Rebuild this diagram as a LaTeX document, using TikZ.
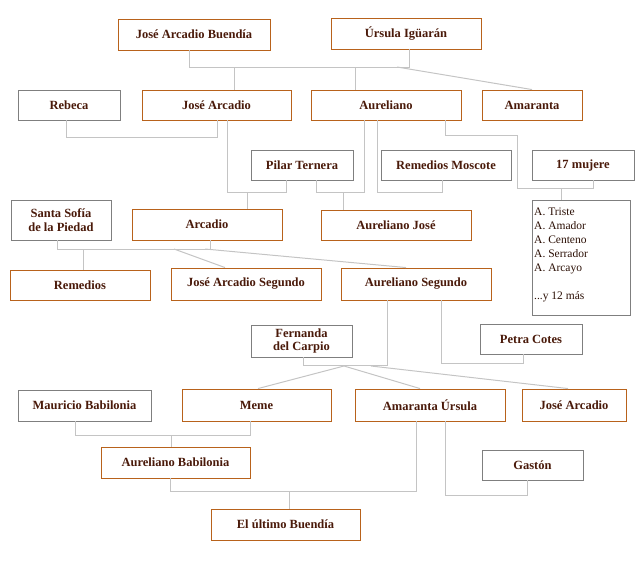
\documentclass[tikz,border=0pt]{standalone}
\usepackage{fontspec}
\setmainfont{Liberation Serif}
\definecolor{ob}{HTML}{B8621B}
\definecolor{gb}{HTML}{7F7F7F}
\definecolor{tx}{HTML}{4A1A0A}
\definecolor{ln}{HTML}{C4C4C4}
\begin{document}
\begin{tikzpicture}[x=1pt,y=-1pt,
  bx/.style={draw=ob,line width=0.9pt,fill=white,inner sep=0pt,font=\fontsize{12.5}{14}\selectfont\bfseries,text=tx,align=center,minimum height=31pt},
  gx/.style={bx,draw=gb},
  cn/.style={draw=ln,line width=1pt}]
\useasboundingbox (0,0) rectangle (640,560);
\node[bx,minimum width=152pt] (jab) at (194,34.5) {José Arcadio Buendía};
\node[bx,minimum width=150pt] (urs) at (406,33.5) {Úrsula Igüarán};
\node[gx,minimum width=102pt,minimum height=30pt] (reb) at (69,105) {Rebeca};
\node[bx,minimum width=149pt,minimum height=30pt] (ja) at (216.5,105) {José Arcadio};
\node[bx,minimum width=150pt,minimum height=30pt] (aur) at (386,105) {Aureliano};
\node[bx,minimum width=100pt,minimum height=30pt] (ama) at (532,105) {Amaranta};
\node[gx,minimum width=102pt,minimum height=30pt] (pil) at (302,165) {Pilar Ternera};
\node[gx,minimum width=130pt,minimum height=30pt] (rem) at (446,165) {Remedios Moscote};
\node[gx,minimum width=102pt,minimum height=30pt] (muj) at (583,165) {17 mujere};
\node[gx,minimum width=100pt,minimum height=40pt,font=\fontsize{12.5}{13.5}\selectfont\bfseries] (ssp) at (61,220) {Santa Sofía\\de la Piedad};
\node[bx,minimum width=150pt] (arc) at (207,224.5) {Arcadio};
\node[bx,minimum width=150pt,minimum height=30pt] (aj) at (396,225) {Aureliano José};
\node[draw=gb,line width=0.9pt,fill=white,minimum width=98pt,minimum height=115pt] (lst) at (581,257.5) {};
\node[anchor=north west,inner sep=0pt,align=left,font=\fontsize{11.5}{14}\selectfont,text=tx!60!black] (lsttxt) at (534,208) {A. Triste\\A. Amador\\A. Centeno\\A. Serrador\\A. Arcayo\\[14pt]...y 12 más};
\node[bx,minimum width=140pt,minimum height=30pt] (remd) at (80,285) {Remedios};
\node[bx,minimum width=150pt,minimum height=32pt] (jas) at (246,284) {José Arcadio Segundo};
\node[bx,minimum width=150pt,minimum height=32pt] (as) at (416,284) {Aureliano Segundo};
\node[gx,minimum width=101pt,minimum height=32pt,font=\fontsize{12.5}{13.5}\selectfont\bfseries] (fer) at (301.5,341) {Fernanda\\del Carpio};
\node[gx,minimum width=102pt,minimum height=30pt] (pet) at (531,339) {Petra Cotes};
\node[gx,minimum width=133pt] (mau) at (84.5,405.5) {Mauricio Babilonia};
\node[bx,minimum width=149pt,minimum height=32pt] (meme) at (256.5,405) {Meme};
\node[bx,minimum width=150pt,minimum height=32pt] (au) at (430,405) {Amaranta Úrsula};
\node[bx,minimum width=104pt,minimum height=32pt] (ja2) at (574,405) {José Arcadio};
\node[bx,minimum width=149pt] (ab) at (175.5,462.5) {Aureliano Babilonia};
\node[gx,minimum width=101pt,minimum height=30pt] (gas) at (532.5,465) {Gastón};
\node[bx,minimum width=149pt] (ult) at (285.5,524.5) {El último Buendía};
\begin{scope}[on background layer/.style={}]
\end{scope}
% connectors
\coordinate (p1) at (397,67);
\draw[cn] (jab.south -| 189,0) |- (409,67) -- (urs.south -| 409,0);
\draw[cn] (234,67) -- (ja.north -| 234,0);
\draw[cn] (355,67) -- (aur.north -| 355,0);
\draw[cn] (p1) -- (ama.north);
\draw[cn] (reb.south -| 66,0) |- (217,137) -- (ja.south -| 217,0);
\draw[cn] (ja.south -| 227,0) |- (286,192) -- (pil.south -| 286,0);
\draw[cn] (247,192) -- (arc.north -| 247,0);
\draw[cn] (pil.south -| 316,0) |- (364,192) -- (aur.south -| 364,0);
\draw[cn] (343,192) -- (aj.north -| 343,0);
\draw[cn] (aur.south -| 377,0) |- (442,192) -- (rem.south -| 442,0);
\draw[cn] (aur.south -| 445,0) |- (517,135) |- (593,188) -- (muj.south -| 593,0);
\draw[cn] (561,188) -- (lst.north -| 561,0);
\draw[cn] (ssp.south -| 57,0) |- (210,249) -- (arc.south -| 210,0);
\draw[cn] (83,249) -- (remd.north -| 83,0);
\draw[cn] (174,249) -- (jas.north -| 225,0);
\draw[cn] (205,249) -- (as.north -| 406,0);
\draw[cn] (as.south -| 387,0) |- (303,365) -- (fer.south -| 303,0);
\draw[cn] (344,366) -- (meme.north -| 258,0);
\draw[cn] (344,366) -- (au.north -| 420,0);
\draw[cn] (371,366) -- (ja2.north -| 568,0);
\draw[cn] (as.south -| 441,0) |- (523,363) -- (pet.south -| 523,0);
\draw[cn] (mau.south -| 75,0) |- (250,435) -- (meme.south -| 250,0);
\draw[cn] (171,435) -- (ab.north -| 171,0);
\draw[cn] (ab.south -| 170,0) |- (416,491) -- (au.south -| 416,0);
\draw[cn] (289,491) -- (ult.north -| 289,0);
\draw[cn] (au.south -| 445,0) |- (527,495) -- (gas.south -| 527,0);
\end{tikzpicture}
\end{document}
